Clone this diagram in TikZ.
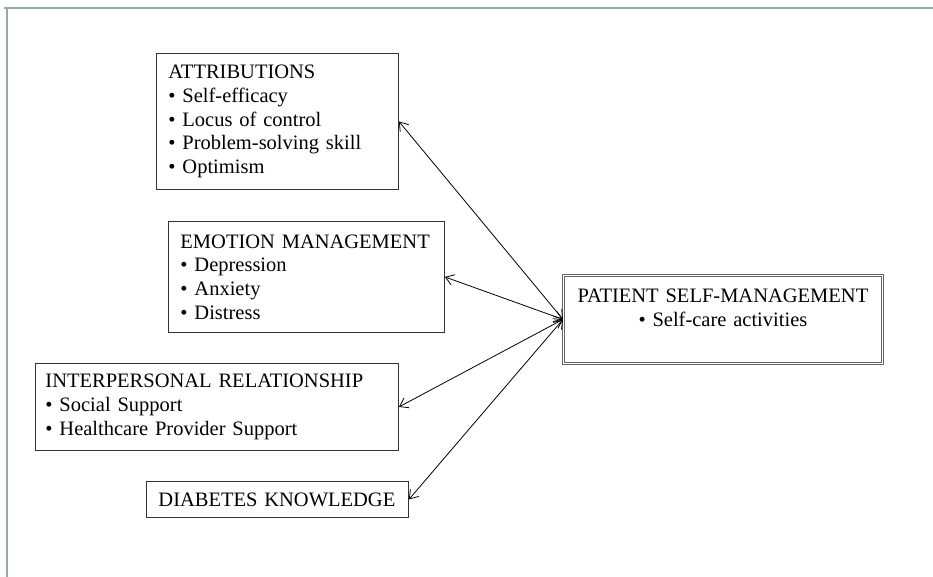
\documentclass[tikz,border=0pt]{standalone}
\usepackage{fontspec}
\setmainfont{Liberation Serif}
\usetikzlibrary{arrows.meta}
\definecolor{framegray}{RGB}{150,170,172}
\begin{document}
\begin{tikzpicture}[x=1pt,y=-1pt,
  box/.style={draw=black!80, line width=0.9pt, inner xsep=12pt, inner ysep=0pt,
    align=left, anchor=north west, font=\fontsize{20.5}{23.75}\selectfont},
  patbox/.style={box, draw=black!60, double=white, double distance=1.6pt, line width=0.8pt, align=center},
  link/.style={{Straight Barb[length=8pt,width=11pt]}-{Straight Barb[length=8pt,width=11pt]}, line width=0.8pt}]
\useasboundingbox (0,0) rectangle (933,577);
\draw[framegray, line width=2.5pt] (4,8) -- (933,8);
\draw[framegray, line width=2.5pt] (7,7) -- (7,577);

\node[box, minimum width=242pt, minimum height=136pt, text width=218pt] (attr) at (156,53)
  {ATTRIBUTIONS\\• Self-efficacy\\• Locus of control\\• Problem-solving skill\\• Optimism};
\node[box, minimum width=276pt, minimum height=111pt, text width=252pt] (emo) at (168,221)
  {EMOTION MANAGEMENT\\• Depression\\• Anxiety\\• Distress};
\node[box, inner xsep=10pt, minimum width=363pt, minimum height=87pt, text width=343pt] (inter) at (35,363)
  {INTERPERSONAL RELATIONSHIP\\• Social Support\\• Healthcare Provider Support};
\node[box, minimum width=262pt, minimum height=36pt, text width=238pt] (diab) at (146,481)
  {DIABETES KNOWLEDGE};
\node[patbox, minimum width=319pt, minimum height=88pt, text width=295pt] (pat) at (563,275)
  {PATIENT SELF-MANAGEMENT\\• Self-care activities\\\mbox{}};

\draw[link] (attr.east) -- (pat.west);
\draw[link] (emo.east) -- (pat.west);
\draw[link] (inter.east) -- (pat.west);
\draw[link] (diab.east) -- (pat.west);
\end{tikzpicture}
\end{document}
